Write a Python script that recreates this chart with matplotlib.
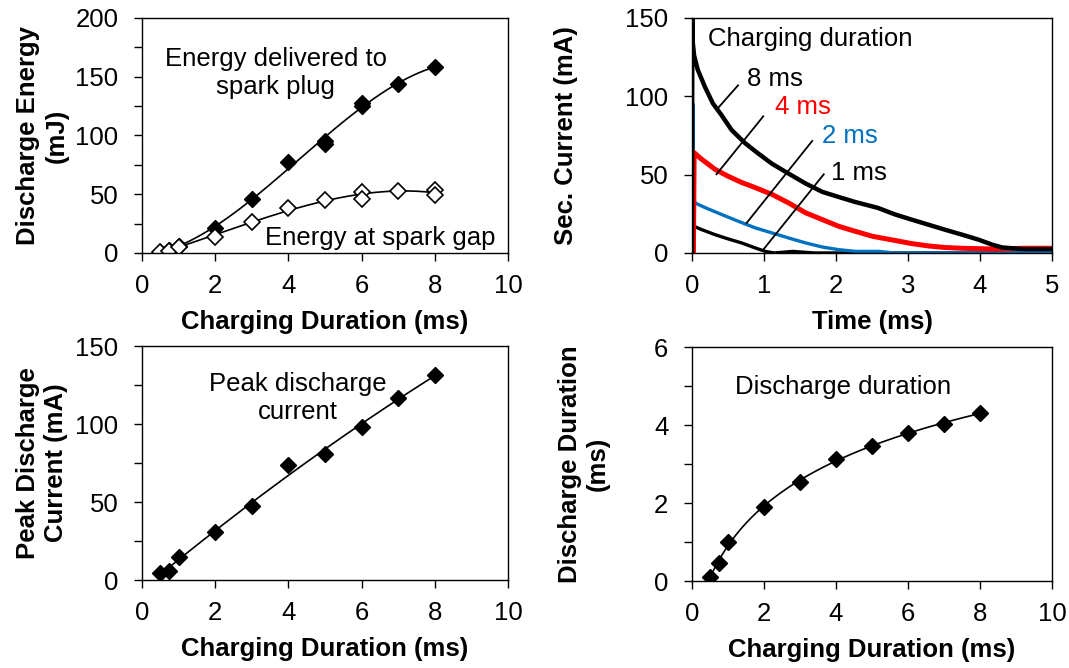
import numpy as np
import matplotlib
matplotlib.use("Agg")
import matplotlib.pyplot as plt
from matplotlib.ticker import MultipleLocator

plt.rcParams['font.family'] = ['Liberation Sans', 'DejaVu Sans']

# charging durations (ms), repeated where two shots were measured
dur_e = [0.5, 0.75, 1, 2, 3, 4, 5, 5, 6, 6, 7, 8]
e_plug = [1, 2.8, 5.7, 21.3, 46.2, 77.2, 95, 93, 125, 128, 144, 158]
dur_g = [0.5, 0.75, 1, 2, 3, 4, 5, 6, 6, 7, 8, 8]
e_gap = [1, 2, 5, 13.3, 26.4, 38.3, 45.4, 51.6, 46, 53, 53.3, 49.6]

dur = [0.5, 0.75, 1, 2, 3, 4, 5, 6, 7, 8]
peak_current = [4.7, 6.0, 14.5, 30.6, 47.6, 73.5, 81, 98.3, 116.5, 131.4]
dis_duration = [0.1, 0.46, 0.99, 1.9, 2.55, 3.14, 3.46, 3.79, 4.02, 4.32]

# secondary current traces (time ms, current mA)
t_8 = [0, 0.005, 0.01, 0.03, 0.08, 0.18, 0.29, 0.41, 0.55, 0.74, 0.92, 1.11, 1.34, 1.58,
       1.81, 2.04, 2.27, 2.58, 2.82, 3.05, 3.28, 3.51, 3.75, 3.98, 4.17, 4.31, 4.6, 5.0]
i_8 = [0, 150, 135, 126, 117, 106, 95.5, 88, 78.5, 70, 63.5, 57, 50.7, 44.3,
       39, 35.7, 32.5, 28.8, 24.6, 21.3, 18.1, 14.9, 11.7, 8.5, 5.3, 3.5, 2.5, 2.5]
t_4 = [0, 0.02, 0.03, 0.13, 0.32, 0.50, 0.69, 0.88, 1.11, 1.34, 1.58, 1.81, 2.04,
       2.27, 2.51, 2.82, 3.05, 3.28, 3.51, 3.75, 4.2, 4.6, 5.0]
i_4 = [0, 0, 64, 60, 53.4, 49, 45, 41.7, 37.4, 32, 25.6, 21.3, 17,
       13.8, 10.6, 8, 6, 4.5, 3.5, 3, 2.5, 3, 3]
t_2 = [0, 0.015, 0.02, 0.04, 0.18, 0.41, 0.64, 0.88, 1.11, 1.34, 1.58, 1.81, 2.04,
       2.27, 2.6, 2.8, 5.0]
i_2 = [0, 95, 40, 32, 29, 24.6, 20.3, 16, 12.8, 9.6, 6.4, 3.8, 2.1,
       1, 1, 0, 0]
t_1 = [0, 0.02, 0.03, 0.13, 0.32, 0.50, 0.69, 0.88, 1.02, 1.14, 1.4, 1.7, 5.0]
i_1 = [0, 17, 17, 15, 11.7, 9, 6.4, 3.2, 1, 0, 1, 0, 0]

ms_labels = ['8 ms', '4 ms', '2 ms', '1 ms']
ms_colors = ['black', '#ff0000', '#0070c0', 'black']
label_xy = [(0.76, 111), (1.15, 93), (1.80, 74.7), (1.93, 51.3)]
leader = [((0.64, 0.35), (107, 91.9)), ((0.99, 0.34), (87.2, 50.2)),
          ((1.67, 0.76), (71.5, 19.2)), ((1.83, 0.99), (50.2, 2.1))]

FS = 18.5

fig = plt.figure(figsize=(10.69, 6.68), dpi=100)
ax1 = fig.add_axes([0.1328, 0.6213, 0.3424, 0.3518])
ax2 = fig.add_axes([0.6473, 0.6213, 0.3368, 0.3518])
ax3 = fig.add_axes([0.1328, 0.1317, 0.3424, 0.3503])
ax4 = fig.add_axes([0.6473, 0.1302, 0.3368, 0.3503])


def style(ax):
    for s in ax.spines.values():
        s.set_linewidth(1.0)
        s.set_color('black')
    ax.tick_params(which='both', direction='out', length=6, width=1, labelsize=FS,
                   colors='black')
    ax.tick_params(axis='x', pad=9)
    ax.tick_params(axis='y', pad=11)


def fit_curve(x, y, deg, logx=False):
    x = np.asarray(x, float)
    y = np.asarray(y, float)
    xs = np.linspace(x.min(), x.max(), 200)
    if logx:
        c = np.polyfit(np.log(x), y, deg)
        return xs, np.polyval(c, np.log(xs))
    c = np.polyfit(x, y, deg)
    return xs, np.polyval(c, xs)


# --- energy
xs, ys = fit_curve(dur_e, e_plug, 3)
ax1.plot(xs, ys, color='black', lw=1.2)
xs, ys = fit_curve(dur_g, e_gap, 3)
ax1.plot(xs, ys, color='black', lw=1.2)
ax1.plot(dur_e, e_plug, 'D', color='black', ms=8.5)
ax1.plot(dur_g, e_gap, 'D', mfc='white', mec='black', mew=1.2, ms=8.5)
ax1.set_xlim(0, 10)
ax1.set_ylim(0, 200)
ax1.xaxis.set_major_locator(MultipleLocator(2))
ax1.yaxis.set_major_locator(MultipleLocator(50))
ax1.yaxis.set_minor_locator(MultipleLocator(25))
ax1.text(3.66, 153, 'Energy delivered to\nspark plug', ha='center', va='center',
         fontsize=FS, linespacing=1.2)
ax1.text(6.5, 12.8, 'Energy at spark gap', ha='center', va='center', fontsize=FS)
ax1.set_xlabel('Charging Duration (ms)', fontsize=FS, fontweight='bold', labelpad=9)
ax1.set_ylabel('Discharge Energy\n(mJ)', fontsize=FS, fontweight='bold', labelpad=5)
style(ax1)

# --- current traces
ax2.plot(t_1, i_1, color='black', lw=2.4)
ax2.plot(t_2, i_2, color='#0070c0', lw=2.4)
ax2.plot(t_4, i_4, color='#ff0000', lw=3.6)
ax2.plot(t_8, i_8, color='black', lw=3.2)
for lab, c, (tx, ty), (lx, ly) in zip(ms_labels, ms_colors, label_xy, leader):
    ax2.plot(lx, ly, color='black', lw=1.3)
    ax2.text(tx, ty, lab, color=c, fontsize=FS, ha='left', va='center')
ax2.text(0.22, 136.7, 'Charging duration', fontsize=FS, ha='left', va='center')
ax2.set_xlim(0, 5)
ax2.set_ylim(0, 150)
ax2.xaxis.set_major_locator(MultipleLocator(1))
ax2.yaxis.set_major_locator(MultipleLocator(50))
ax2.set_xlabel('Time (ms)', fontsize=FS, fontweight='bold', labelpad=9)
ax2.set_ylabel('Sec. Current (mA)', fontsize=FS, fontweight='bold', labelpad=34)
style(ax2)

# --- peak current
xs, ys = fit_curve(dur, peak_current, 2)
ax3.plot(xs, ys, color='black', lw=1.2)
ax3.plot(dur, peak_current, 'D', color='black', ms=8.5)
ax3.set_xlim(0, 10)
ax3.set_ylim(0, 150)
ax3.xaxis.set_major_locator(MultipleLocator(2))
ax3.yaxis.set_major_locator(MultipleLocator(50))
ax3.yaxis.set_minor_locator(MultipleLocator(25))
ax3.text(4.26, 116.7, 'Peak discharge\ncurrent', ha='center', va='center',
         fontsize=FS, linespacing=1.2)
ax3.set_xlabel('Charging Duration (ms)', fontsize=FS, fontweight='bold', labelpad=9)
ax3.set_ylabel('Peak Discharge\nCurrent (mA)', fontsize=FS, fontweight='bold', labelpad=5)
style(ax3)

# --- discharge duration
xs, ys = fit_curve(dur, dis_duration, 3, logx=True)
ax4.plot(xs, ys, color='black', lw=1.2)
ax4.plot(dur, dis_duration, 'D', color='black', ms=8.5)
ax4.set_xlim(0, 10)
ax4.set_ylim(0, 6)
ax4.xaxis.set_major_locator(MultipleLocator(2))
ax4.yaxis.set_major_locator(MultipleLocator(2))
ax4.yaxis.set_minor_locator(MultipleLocator(1))
ax4.text(4.19, 4.97, 'Discharge duration', ha='center', va='center', fontsize=FS)
ax4.set_xlabel('Charging Duration (ms)', fontsize=FS, fontweight='bold', labelpad=9)
ax4.set_ylabel('Discharge Duration\n(ms)', fontsize=FS, fontweight='bold', labelpad=32)
style(ax4)

fig.savefig('out.png', dpi=100)
